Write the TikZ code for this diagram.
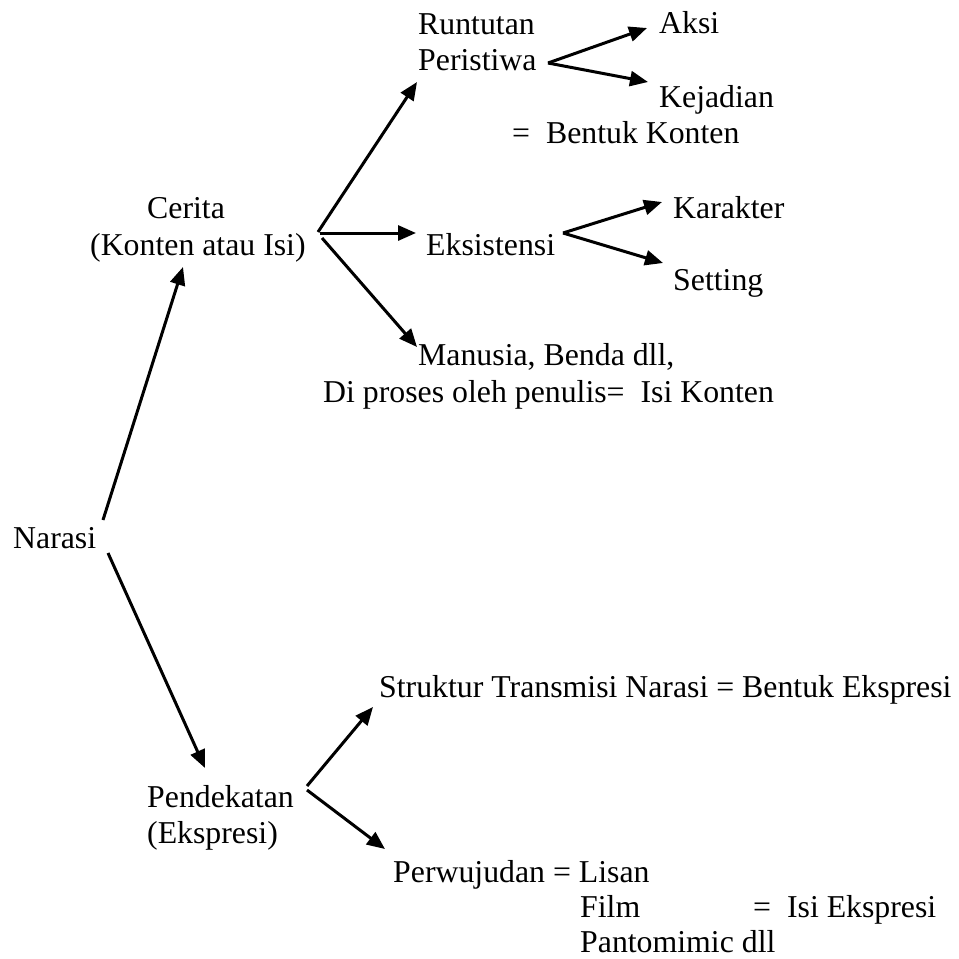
\documentclass[tikz,border=0pt]{standalone}
\usepackage{fontspec}
\setmainfont{Liberation Serif}
\usetikzlibrary{arrows.meta}
\begin{document}
\begin{tikzpicture}[x=1pt,y=-1pt,
  lbl/.style={inner sep=0pt,anchor=base west,font=\fontsize{31.8}{36}\selectfont},
  conn/.style={line width=3pt,-{Triangle[length=18pt,width=15pt]}}]
\useasboundingbox (0,0) rectangle (959,959);
% text nodes
\node[lbl] (narasi) at (13,548) {Narasi};
\node[lbl] (cerita) at (147,218) {Cerita};
\node[lbl] (konten) at (90,255) {(Konten atau Isi)};
\node[lbl] (runtutan) at (418,34) {Runtutan};
\node[lbl] (peristiwa) at (418,70) {Peristiwa};
\node[lbl] (aksi) at (659,33) {Aksi};
\node[lbl] (kejadian) at (659,107) {Kejadian};
\node[lbl] (bentukk) at (512,143) {=\ \ Bentuk Konten};
\node[lbl] (eksistensi) at (426,255) {Eksistensi};
\node[lbl] (karakter) at (673,218) {Karakter};
\node[lbl] (setting) at (673,290) {Setting};
\node[lbl] (manusia) at (418,365) {Manusia, Benda dll,};
\node[lbl] (diproses) at (323,402) {Di proses oleh penulis=\ \ Isi Konten};
\node[lbl] (pendekatan) at (147,807) {Pendekatan};
\node[lbl] (ekspresi) at (147,843) {(Ekspresi)};
\node[lbl] (struktur) at (379,697) {Struktur Transmisi Narasi = Bentuk Ekspresi};
\node[lbl] (perwujudan) at (393,882) {Perwujudan = Lisan};
\node[lbl] (film) at (580,917) {Film};
\node[lbl] (isieks) at (753,917) {=\ \ Isi Ekspresi};
\node[lbl] (panto) at (580,952) {Pantomimic dll};
% connector end points
\coordinate (nA) at (103,520);
\coordinate (nB) at (108,553);
\coordinate (cTip) at (183,267);
\coordinate (pTip) at (205,768);
\coordinate (c1) at (318,232);
\coordinate (c2) at (320,233);
\coordinate (c3) at (322,238);
\coordinate (rTip) at (417,82);
\coordinate (eTip) at (416,233);
\coordinate (mTip) at (417,347);
\coordinate (pv) at (548,63);
\coordinate (aTip) at (647,28);
\coordinate (kTip) at (648,82);
\coordinate (ev) at (563,233);
\coordinate (kaTip) at (662,202);
\coordinate (sTip) at (663,263);
\coordinate (d1) at (307,786);
\coordinate (d2) at (307,790);
\coordinate (stTip) at (373,707);
\coordinate (pwTip) at (385,849);
% connectors
\draw[conn] (nA) -- (cTip);
\draw[conn] (nB) -- (pTip);
\draw[conn] (c1) -- (rTip);
\draw[conn] (c2) -- (eTip);
\draw[conn] (c3) -- (mTip);
\draw[conn] (pv) -- (aTip);
\draw[conn] (pv) -- (kTip);
\draw[conn] (ev) -- (kaTip);
\draw[conn] (ev) -- (sTip);
\draw[conn] (d1) -- (stTip);
\draw[conn] (d2) -- (pwTip);
\end{tikzpicture}
\end{document}
